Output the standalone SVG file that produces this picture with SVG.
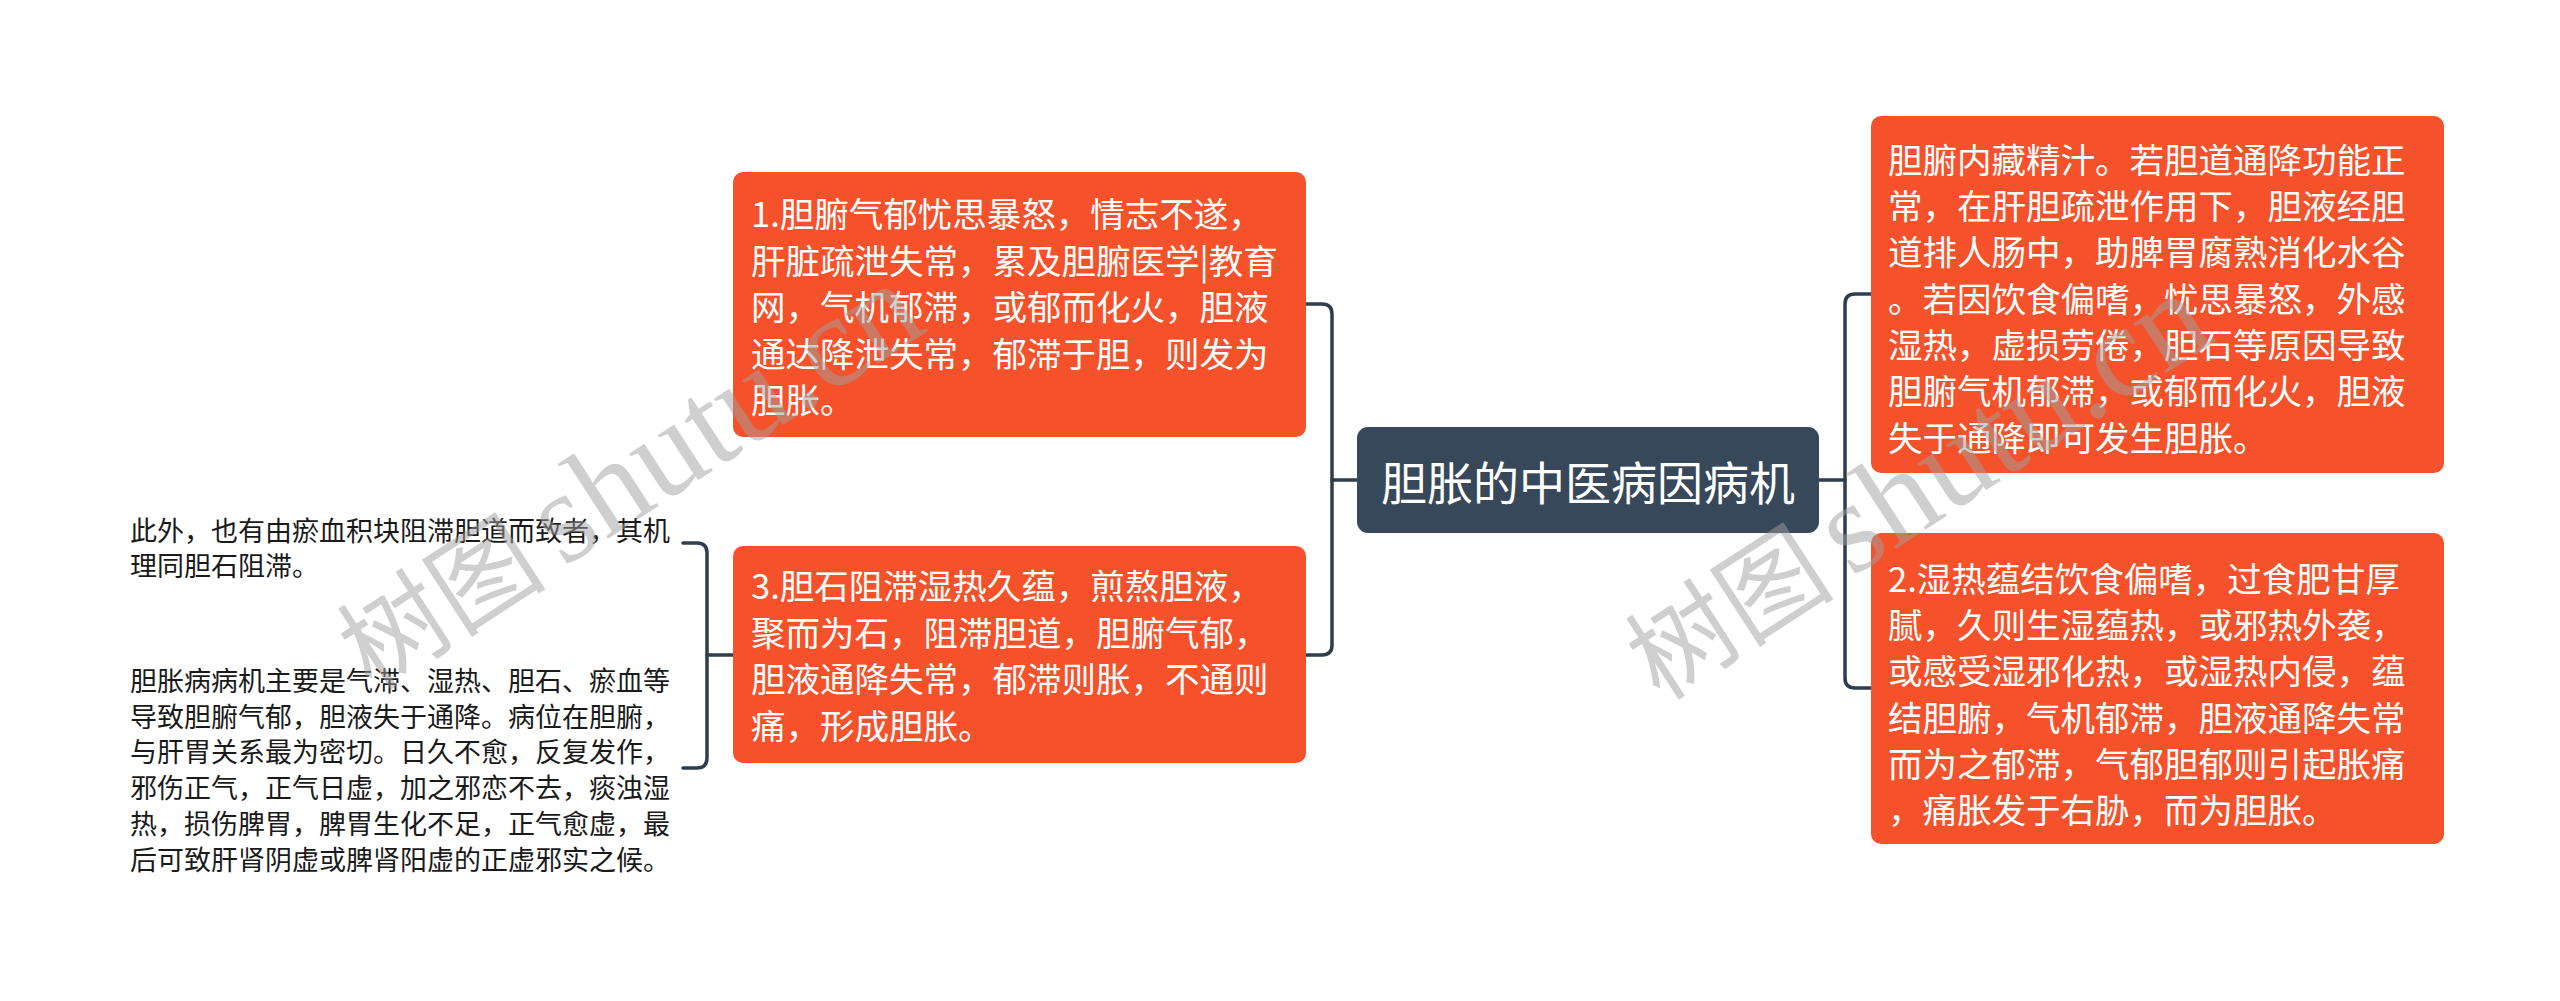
<svg xmlns="http://www.w3.org/2000/svg" width="2560" height="1001" viewBox="0 0 2560 1001">
<style>
.node rect.box{fill:#F5522B;}
.root rect{fill:#364859;}
.t{font-family:"Noto Sans CJK SC","Noto Sans",sans-serif;fill:#ffffff;dominant-baseline:central;}
.nt{font-size:34.5px;}
.rt{font-size:46px;}
.lt{font-family:"Noto Sans CJK SC","Noto Sans",sans-serif;fill:#1a1a1a;font-size:27px;dominant-baseline:central;}
.conn path{fill:none;stroke:#2E3E4E;stroke-width:3.5;stroke-linecap:round;}
.wm{font-family:"Liberation Serif","Noto Sans CJK SC",serif;fill:#a0a0a0;opacity:0.5;}
</style>
<rect width="2560" height="1001" fill="#ffffff"/>
<g id="connectors" class="conn">
<path d="M1357,480 H1332"/>
<path d="M1306,304 H1322 Q1332,304 1332,314 V645 Q1332,655 1322,655 H1306"/>
<path d="M1819,480 H1845"/>
<path d="M1871,294 H1855 Q1845,294 1845,304 V678 Q1845,688 1855,688 H1871"/>
<path d="M733,655 H707"/>
<path d="M683,543 H697 Q707,543 707,553 V758 Q707,768 697,768 H683"/>
</g>
<g id="root" class="root">
<rect x="1357" y="427" width="462" height="106" rx="11"/>
<text class="t rt" x="1588" y="480" text-anchor="middle">胆胀的中医病因病机</text>
</g>
<g id="node1" class="node">
<rect class="box" x="733" y="172" width="573" height="265" rx="10"/>
<text class="t nt">
<tspan x="751" y="212">1.胆腑气郁忧思暴怒，情志不遂，</tspan>
<tspan x="751" y="258.5">肝脏疏泄失常，累及胆腑医学|教育</tspan>
<tspan x="751" y="305">网，气机郁滞，或郁而化火，胆液</tspan>
<tspan x="751" y="351.5">通达降泄失常，郁滞于胆，则发为</tspan>
<tspan x="751" y="398">胆胀。</tspan>
</text>
</g>
<g id="node3" class="node">
<rect class="box" x="733" y="546" width="573" height="217" rx="10"/>
<text class="t nt">
<tspan x="751" y="584">3.胆石阻滞湿热久蕴，煎熬胆液，</tspan>
<tspan x="751" y="630.5">聚而为石，阻滞胆道，胆腑气郁，</tspan>
<tspan x="751" y="677">胆液通降失常，郁滞则胀，不通则</tspan>
<tspan x="751" y="723.5">痛，形成胆胀。</tspan>
</text>
</g>
<g id="nodeA" class="node">
<rect class="box" x="1871" y="116" width="573" height="357" rx="10"/>
<text class="t nt">
<tspan x="1888" y="157.5">胆腑内藏精汁。若胆道通降功能正</tspan>
<tspan x="1888" y="204">常，在肝胆疏泄作用下，胆液经胆</tspan>
<tspan x="1888" y="250">道排人肠中，助脾胃腐熟消化水谷</tspan>
<tspan x="1888" y="296.5">。若因饮食偏嗜，忧思暴怒，外感</tspan>
<tspan x="1888" y="343">湿热，虚损劳倦，胆石等原因导致</tspan>
<tspan x="1888" y="389">胆腑气机郁滞，或郁而化火，胆液</tspan>
<tspan x="1888" y="435.5">失于通降即可发生胆胀。</tspan>
</text>
</g>
<g id="nodeB" class="node">
<rect class="box" x="1871" y="533" width="573" height="311" rx="10"/>
<text class="t nt">
<tspan x="1888" y="576.5">2.湿热蕴结饮食偏嗜，过食肥甘厚</tspan>
<tspan x="1888" y="623">腻，久则生湿蕴热，或邪热外袭，</tspan>
<tspan x="1888" y="669">或感受湿邪化热，或湿热内侵，蕴</tspan>
<tspan x="1888" y="715.5">结胆腑，气机郁滞，胆液通降失常</tspan>
<tspan x="1888" y="762">而为之郁滞，气郁胆郁则引起胀痛</tspan>
<tspan x="1888" y="808">，痛胀发于右胁，而为胆胀。</tspan>
</text>
</g>
<g id="leaf1">
<text class="lt">
<tspan x="130" y="529">此外，也有由瘀血积块阻滞胆道而致者，其机</tspan>
<tspan x="130" y="564">理同胆石阻滞。</tspan>
</text>
</g>
<g id="leaf2">
<text class="lt">
<tspan x="130" y="679">胆胀病病机主要是气滞、湿热、胆石、瘀血等</tspan>
<tspan x="130" y="714.7">导致胆腑气郁，胆液失于通降。病位在胆腑，</tspan>
<tspan x="130" y="750.4">与肝胃关系最为密切。日久不愈，反复发作，</tspan>
<tspan x="130" y="786.1">邪伤正气，正气日虚，加之邪恋不去，痰浊湿</tspan>
<tspan x="130" y="821.8">热，损伤脾胃，脾胃生化不足，正气愈虚，最</tspan>
<tspan x="130" y="857.5">后可致肝肾阴虚或脾肾阳虚的正虚邪实之候。</tspan>
</text>
</g>
<g id="watermarks">
<text class="wm" transform="translate(372,692) rotate(-33)"><tspan font-size="105">树图</tspan><tspan font-size="130" dx="18">shutu.cn</tspan></text>
<text class="wm" transform="translate(1660,702) rotate(-33)"><tspan font-size="105">树图</tspan><tspan font-size="130" dx="18">shutu.cn</tspan></text>
</g>
</svg>
